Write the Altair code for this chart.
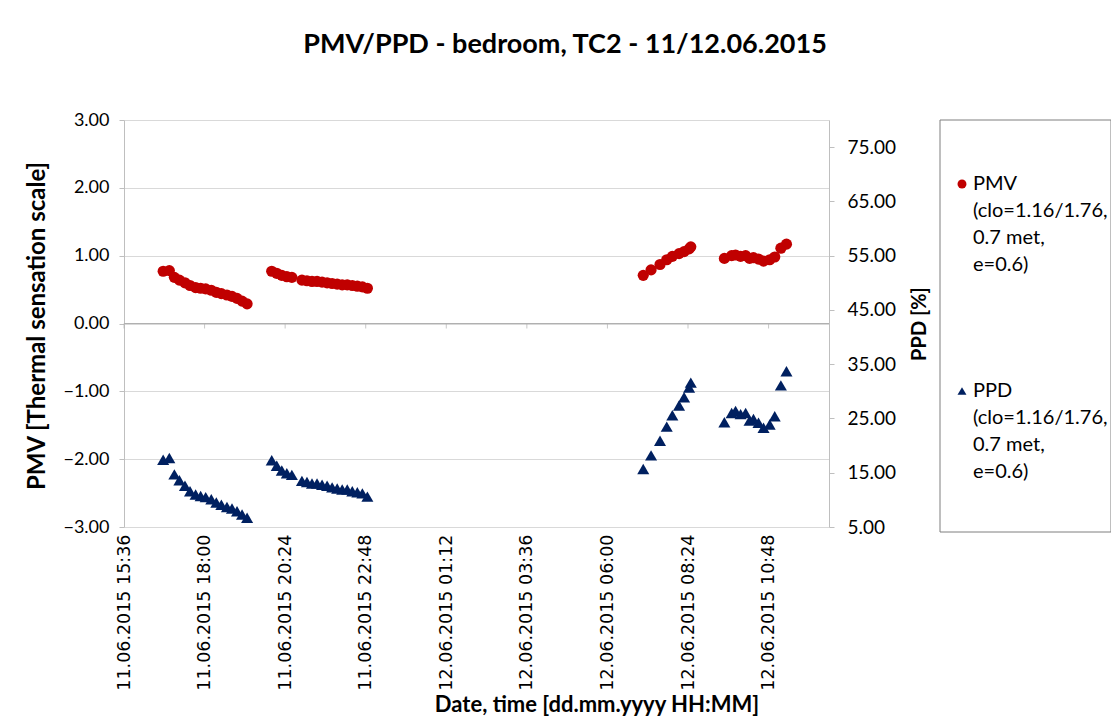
import altair as alt
import pandas as pd

# ---------------- data ----------------
BASE = "2015-06-11 15:36"
times = [
    # segment 1 (11.06 afternoon/evening)
    "2015-06-11 16:46", "2015-06-11 16:57", "2015-06-11 17:06", "2015-06-11 17:15",
    "2015-06-11 17:25", "2015-06-11 17:34", "2015-06-11 17:44", "2015-06-11 17:53",
    "2015-06-11 18:02", "2015-06-11 18:12", "2015-06-11 18:21", "2015-06-11 18:30",
    "2015-06-11 18:40", "2015-06-11 18:49", "2015-06-11 18:58", "2015-06-11 19:07",
    "2015-06-11 19:16",
    # segment 2
    "2015-06-11 20:00", "2015-06-11 20:09", "2015-06-11 20:18", "2015-06-11 20:27",
    "2015-06-11 20:36",
    "2015-06-11 20:54", "2015-06-11 21:03", "2015-06-11 21:12", "2015-06-11 21:21",
    "2015-06-11 21:30", "2015-06-11 21:39", "2015-06-11 21:48", "2015-06-11 21:57",
    "2015-06-11 22:06", "2015-06-11 22:15", "2015-06-11 22:24", "2015-06-11 22:33",
    "2015-06-11 22:42", "2015-06-11 22:51",
    # segment 3 (12.06 morning)
    "2015-06-12 07:04", "2015-06-12 07:18", "2015-06-12 07:34", "2015-06-12 07:46",
    "2015-06-12 07:56", "2015-06-12 08:08", "2015-06-12 08:17", "2015-06-12 08:26",
    "2015-06-12 08:29",
    # segment 4
    "2015-06-12 09:29", "2015-06-12 09:42", "2015-06-12 09:49", "2015-06-12 09:58",
    "2015-06-12 10:07", "2015-06-12 10:14", "2015-06-12 10:21", "2015-06-12 10:30",
    "2015-06-12 10:39", "2015-06-12 10:50", "2015-06-12 10:59", "2015-06-12 11:10",
    "2015-06-12 11:20",
]
pmv = [
    0.77, 0.78, 0.68, 0.64, 0.60, 0.56, 0.53, 0.52, 0.51, 0.49, 0.46, 0.44, 0.42, 0.40, 0.37, 0.33, 0.29,
    0.77, 0.74, 0.71, 0.69, 0.68,
    0.64, 0.63, 0.62, 0.62, 0.61, 0.60, 0.59, 0.58, 0.57, 0.57, 0.56, 0.55, 0.54, 0.52,
    0.71, 0.79, 0.87, 0.94, 0.99, 1.03, 1.06, 1.10, 1.13,
    0.96, 1.00, 1.01, 0.99, 1.00, 0.96, 0.97, 0.95, 0.92, 0.94, 0.98, 1.11, 1.17,
]
ppd = [
    17.4, 17.7, 14.7, 13.6, 12.6, 11.6, 11.0, 10.7, 10.5, 10.1, 9.5, 9.1, 8.7, 8.4, 7.9, 7.3, 6.7,
    17.3, 16.3, 15.4, 14.9, 14.6,
    13.5, 13.3, 13.0, 13.0, 12.8, 12.6, 12.3, 12.1, 11.9, 11.9, 11.6, 11.4, 11.2, 10.6,
    15.7, 18.2, 20.9, 23.5, 25.6, 27.4, 28.9, 30.7, 31.6,
    24.3, 26.0, 26.4, 25.8, 26.0, 24.6, 24.9, 24.2, 23.3, 23.9, 25.4, 31.1, 33.7,
]
x_tick_labels = [
    "11.06.2015 15:36", "11.06.2015 18:00", "11.06.2015 20:24", "11.06.2015 22:48",
    "12.06.2015 01:12", "12.06.2015 03:36", "12.06.2015 06:00", "12.06.2015 08:24",
    "12.06.2015 10:48",
]
x_domain_minutes = [0, 1260]          # 11.06 15:36 .. 12.06 12:36
pmv_ticks = [-3, -2, -1, 0, 1, 2, 3]
ppd_ticks = [5, 15, 25, 35, 45, 55, 65, 75]
ppd_domain = [5, 80]
legend_labels = ["PMV\n(clo=1.16/1.76,\n0.7 met,\ne=0.6)", "PPD\n(clo=1.16/1.76,\n0.7 met,\ne=0.6)"]
title_text = "PMV/PPD - bedroom, TC2 - 11/12.06.2015"
x_title = "Date, time [dd.mm.yyyy HH:MM]"
y_title = "PMV [Thermal sensation scale]"
y2_title = "PPD [%]"

# ---------------- build tables ----------------
base = pd.Timestamp(BASE)
minutes = [(pd.Timestamp(t) - base).total_seconds() / 60 for t in times]
df = pd.DataFrame({"m": minutes, "pmv": pmv, "ppd": ppd})
tick_minutes = [i * 144 for i in range(len(x_tick_labels))]
ticks_df = pd.DataFrame({"m": tick_minutes})
one = pd.DataFrame({"a": [0]})

label_expr = "[" + ",".join("'" + s + "'" for s in x_tick_labels) + "][round(datum.value/144)]"

FONT = "Lato"
RED = "#C00000"
NAVY = "#002060"
GRID = "#D9D9D9"
AXIS = "#BFBFBF"
W, H = 705, 407

xenc = alt.X(
    "m:Q",
    scale=alt.Scale(domain=x_domain_minutes, nice=False, zero=False),
    axis=alt.Axis(
        values=tick_minutes, labelExpr=label_expr, labelAngle=270, labelFont="DejaVu Sans",
        labelFontSize=17.5, labelColor="#000000", labelPadding=7, ticks=False, domain=False,
        grid=False, title=None, labelOverlap=False, labelFlush=False,
    ),
)

pmv_pts = alt.Chart(df).mark_point(
    shape="circle", filled=True, size=125, color=RED, opacity=1
).encode(
    x=xenc,
    y=alt.Y(
        "pmv:Q",
        scale=alt.Scale(domain=[-3, 3], nice=False, zero=False),
        axis=alt.Axis(
            values=pmv_ticks, format=".2f", labelFont=FONT, labelFontSize=18,
            labelColor="#000000", labelPadding=10, tickSize=5, tickColor=AXIS,
            domainColor=AXIS, gridColor=GRID, grid=True, title=None,
        ),
    ),
)

zero_rule = alt.Chart(one).mark_rule(color="#B0B0B0", strokeWidth=1).encode(
    x=alt.value(0), x2=alt.value(W), y=alt.datum(0)
)
zero_ticks = alt.Chart(ticks_df).mark_tick(
    orient="vertical", size=5, thickness=1, color="#B0B0B0", yOffset=2.5
).encode(x=alt.X("m:Q"), y=alt.datum(0))

left = alt.layer(pmv_pts, zero_rule, zero_ticks)

ppd_pts = alt.Chart(df).mark_point(
    shape="triangle-up", filled=True, size=145, color=NAVY, opacity=1
).encode(
    x=alt.X("m:Q"),
    y=alt.Y(
        "ppd:Q",
        scale=alt.Scale(domain=ppd_domain, nice=False, zero=False),
        axis=alt.Axis(
            orient="right", values=ppd_ticks, format=".2f", labelFont=FONT,
            labelFontSize=19, labelColor="#000000", labelPadding=13, tickSize=5,
            tickColor=AXIS, domainColor=AXIS, grid=False, title=None,
        ),
    ),
)

# titles
title_mark = alt.Chart(one).mark_text(
    text=title_text, font=FONT, fontSize=27, fontWeight="bold", color="#000000",
    align="center", baseline="middle",
).encode(x=alt.value(441), y=alt.value(-75))
xtitle_mark = alt.Chart(one).mark_text(
    text=x_title, font=FONT, fontSize=22, fontWeight="bold", color="#000000",
    align="center", baseline="middle",
).encode(x=alt.value(473), y=alt.value(585))
ytitle_mark = alt.Chart(one).mark_text(
    text=y_title, font=FONT, fontSize=24, fontWeight="bold", color="#000000",
    align="center", baseline="middle", angle=270,
).encode(x=alt.value(-86), y=alt.value(206))
y2title_mark = alt.Chart(one).mark_text(
    text=y2_title, font=FONT, fontSize=20, fontWeight="bold", color="#000000",
    align="center", baseline="middle", angle=270,
).encode(x=alt.value(796), y=alt.value(204))

# legend
legend_box = alt.Chart(one).mark_rect(
    fill="#FFFFFF", stroke="#7F7F7F", strokeWidth=1
).encode(x=alt.value(816), x2=alt.value(987), y=alt.value(0), y2=alt.value(412))
leg_df = pd.DataFrame({"label": legend_labels, "k": ["PMV", "PPD"]})
leg_pmv_sym = alt.Chart(one).mark_point(
    shape="circle", filled=True, size=80, color=RED, opacity=1
).encode(x=alt.value(838), y=alt.value(64))
leg_ppd_sym = alt.Chart(one).mark_point(
    shape="triangle-up", filled=True, size=80, color=NAVY, opacity=1
).encode(x=alt.value(838), y=alt.value(271))
leg_pmv_txt = alt.Chart(leg_df[leg_df.k == "PMV"]).mark_text(
    font=FONT, fontSize=20, color="#000000", align="left", baseline="middle",
    lineBreak="\n", lineHeight=27,
).encode(text="label:N", x=alt.value(849), y=alt.value(64))
leg_ppd_txt = alt.Chart(leg_df[leg_df.k == "PPD"]).mark_text(
    font=FONT, fontSize=20, color="#000000", align="left", baseline="middle",
    lineBreak="\n", lineHeight=27,
).encode(text="label:N", x=alt.value(849), y=alt.value(271))

chart = alt.layer(
    left, ppd_pts, title_mark, xtitle_mark, ytitle_mark, y2title_mark,
    legend_box, leg_pmv_sym, leg_ppd_sym, leg_pmv_txt, leg_ppd_txt,
).resolve_scale(y="independent").properties(
    width=W, height=H,
    autosize=alt.AutoSizeParams(type="none"),
    padding={"left": 116, "top": 112, "right": 282, "bottom": 189},
    background="#FFFFFF",
).configure_view(stroke=None)

chart.save("out.html", embed_options={"renderer": "svg", "actions": False})
